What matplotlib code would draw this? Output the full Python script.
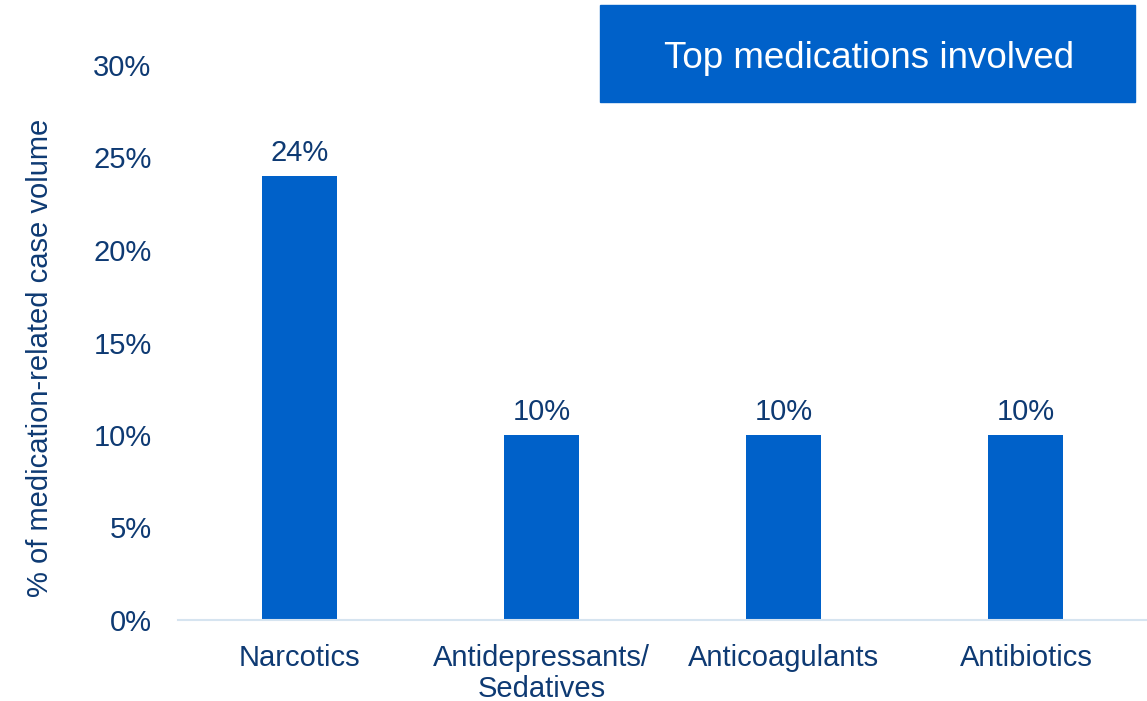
import matplotlib
matplotlib.use("Agg")
import matplotlib.pyplot as plt
from matplotlib.patches import Rectangle

categories = ["Narcotics", "Antidepressants/\nSedatives", "Anticoagulants", "Antibiotics"]
values = [24, 10, 10, 10]
yticks = [0, 5, 10, 15, 20, 25, 30]

BAR = "#0061C9"
TEXT = "#0E3A73"

plt.rcParams["font.family"] = ["Liberation Sans", "DejaVu Sans"]

fig = plt.figure(figsize=(11.47, 7.01), dpi=100)
ax = fig.add_axes([178 / 1147, 1 - 620 / 701, (1147 - 178) / 1147, (620 - 65) / 701])

x = range(len(categories))
bars = ax.bar(x, values, width=0.31, color=BAR, zorder=2)
for xi, v in zip(x, values):
    ax.text(xi, v + 0.5, f"{v}%", ha="center", va="bottom", fontsize=21, color=TEXT)

ax.set_xlim(-0.5, 3.5)
ax.set_ylim(0, 30)
ax.set_yticks(yticks)
ax.set_yticklabels([f"{t}%" for t in yticks])
ax.set_xticks(list(x))
ax.set_xticklabels(categories, linespacing=1.15)
ax.tick_params(axis="y", length=0, pad=19, labelsize=21, labelcolor=TEXT)
ax.tick_params(axis="x", length=0, pad=17, labelsize=21, labelcolor=TEXT)

for side in ["top", "right", "left"]:
    ax.spines[side].set_visible(False)
ax.spines["bottom"].set_color("#D6E4F0")
ax.spines["bottom"].set_linewidth(1.5)

ax.set_ylabel("% of medication-related case volume", fontsize=21, color=TEXT)
ax.yaxis.set_label_coords(-(178 - 54) / 969, (620 - 358) / 555)

# title box
fig.patches.append(Rectangle((600 / 1147, 1 - 102 / 701), 535 / 1147, 97 / 701,
                             transform=fig.transFigure, color=BAR, zorder=0))
fig.text(869 / 1147, 1 - 58 / 701, "Top medications involved", ha="center", va="center",
         fontsize=26.5, color="white")

fig.savefig("out.png", dpi=100)
